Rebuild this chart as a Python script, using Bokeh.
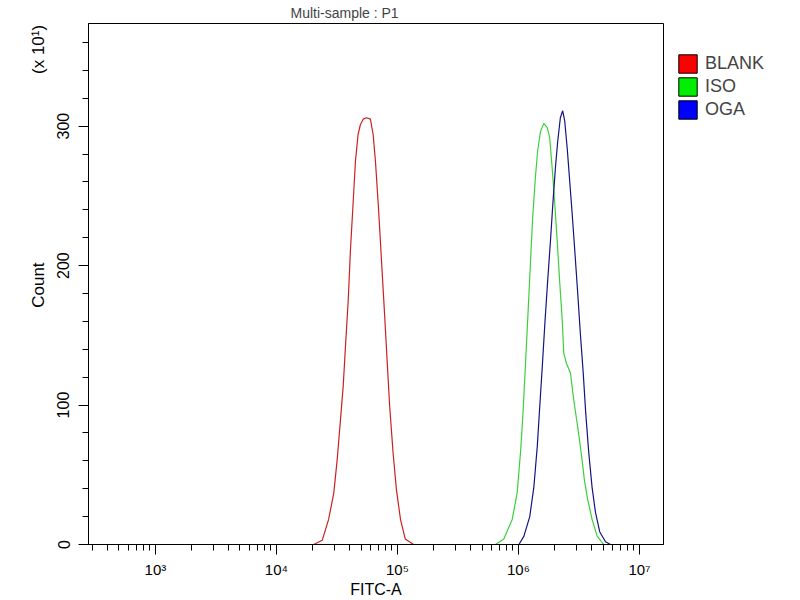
from bokeh.plotting import figure
from bokeh.layouts import row
from bokeh.models import (Range1d, FixedTicker, CustomJSTickFormatter, Legend,
                          LegendItem, LinearAxis)
from bokeh.embed import file_html
from bokeh.resources import INLINE

# FITC-A values and counts (x 10)
blank_fitc = [2.03e4, 2.39e4, 2.70e4, 2.98e4, 3.18e4, 3.38e4, 3.56e4, 3.72e4,
              3.92e4, 4.09e4, 4.31e4, 4.50e4, 4.73e4, 4.94e4, 5.21e4, 5.55e4,
              5.98e4, 6.30e4, 6.58e4, 7.00e4, 7.38e4, 7.82e4, 8.22e4, 8.63e4,
              9.20e4, 9.82e4, 1.06e5, 1.16e5, 1.36e5]
blank_count = [0, 3, 18, 37, 61, 89, 113, 142, 175, 211, 246, 275, 294, 301,
               305, 306, 305, 294, 275, 239, 204, 166, 132, 99, 66, 39, 18, 4, 0]

iso_fitc = [6.46e5, 7.57e5, 8.88e5, 9.76e5, 1.04e6, 1.09e6, 1.14e6, 1.20e6,
            1.26e6, 1.31e6, 1.38e6, 1.44e6, 1.52e6, 1.62e6, 1.73e6, 1.81e6,
            1.90e6, 1.99e6, 2.09e6, 2.19e6, 2.30e6, 2.37e6, 2.49e6, 2.69e6,
            2.86e6, 3.09e6, 3.30e6, 3.51e6, 3.74e6, 4.06e6, 4.47e6, 5.07e6]
iso_count = [0, 4, 18, 37, 66, 94, 127, 166, 204, 234, 263, 282, 296, 302,
             299, 292, 270, 246, 218, 189, 161, 137, 130, 123, 104, 84, 66, 46,
             32, 18, 6, 0]

oga_fitc = [1.01e6, 1.11e6, 1.24e6, 1.34e6, 1.43e6, 1.50e6, 1.58e6, 1.66e6,
            1.75e6, 1.84e6, 1.93e6, 2.02e6, 2.11e6, 2.22e6, 2.32e6, 2.41e6,
            2.53e6, 2.65e6, 2.78e6, 2.92e6, 3.09e6, 3.25e6, 3.43e6, 3.60e6,
            3.81e6, 4.06e6, 4.33e6, 4.70e6, 5.24e6, 5.76e6]
oga_count = [0, 6, 20, 41, 70, 99, 130, 161, 191, 218, 246, 270, 289, 306,
             311, 304, 284, 261, 237, 211, 180, 151, 123, 94, 66, 41, 23, 9, 2, 0]

sample_names = ["BLANK", "ISO", "OGA"]
line_colors = ["#cc2020", "#3ccf3c", "#14147e"]
swatch_colors = ["#ff0000", "#00ee00", "#0000ff"]

x_decades = [1e3, 1e4, 1e5, 1e6, 1e7]
y_major = [0, 100, 200, 300]

FONT = "Liberation Sans"

p = figure(width=675, height=600, x_axis_type="log",
           x_range=Range1d(280, 1.58e7), y_range=Range1d(0, 373.6),
           output_backend="svg", toolbar_location=None,
           min_border_left=88, min_border_right=12,
           min_border_top=22, min_border_bottom=55)

p.title.text = "Multi-sample : P1"
p.title.text_font = FONT
p.title.text_font_size = "14px"
p.title.text_font_style = "normal"
p.title.align = "left"
p.title.offset = 202
p.title.standoff = 5

p.grid.visible = False
p.outline_line_color = "black"
p.outline_line_alpha = 1

# x axis
minor_x = [m * d for d in [1e2, 1e3, 1e4, 1e5, 1e6, 1e7] for m in range(2, 10)]
p.xaxis.ticker = FixedTicker(ticks=x_decades, minor_ticks=minor_x)
p.xaxis.formatter = CustomJSTickFormatter(code="""
    const sup = {'0':'\u2070','1':'\u00b9','2':'\u00b2','3':'\u00b3','4':'\u2074',
                 '5':'\u2075','6':'\u2076','7':'\u2077','8':'\u2078','9':'\u2079'};
    const e = Math.round(Math.log10(tick));
    return '10' + String(e).split('').map(c => sup[c]).join('');
""")
p.xaxis.axis_label = "FITC-A"

# y axis
p.yaxis.ticker = FixedTicker(ticks=y_major, minor_ticks=list(range(0, 380, 20)))
p.yaxis.major_label_orientation = "vertical"

for ax in [p.xaxis, p.yaxis]:
    ax.axis_line_color = "black"
    ax.major_tick_line_color = "black"
    ax.minor_tick_line_color = "black"
    ax.major_tick_in = 0
    ax.minor_tick_in = 0
    ax.major_tick_out = 10
    ax.minor_tick_out = 6
    ax.major_label_text_font = FONT
    ax.major_label_text_font_size = "16px"
    ax.major_label_text_color = "black"
    ax.axis_label_text_font = FONT
    ax.axis_label_text_font_size = "17px"
    ax.axis_label_text_font_style = "normal"
    ax.axis_label_text_color = "black"

p.xaxis.major_label_text_font_size = "15px"
p.xaxis.axis_label_text_font_size = "16px"
p.xaxis.major_label_standoff = 6
p.xaxis.axis_label_standoff = 0
p.yaxis.major_label_standoff = 9

# outer left axis carrying the "Count" title and the scale note
y_titles = {186: "Count", 355: "(x 10\u00b9)"}
side = LinearAxis(ticker=FixedTicker(ticks=list(y_titles.keys())),
                  major_label_overrides=y_titles,
                  major_label_orientation="vertical",
                  axis_line_color=None, major_tick_line_color=None,
                  minor_tick_line_color=None, major_tick_out=0,
                  major_tick_in=0, minor_tick_out=0, minor_tick_in=0,
                  major_label_standoff=6, major_label_text_font=FONT,
                  major_label_text_font_size="17px",
                  major_label_text_color="black")
p.add_layout(side, "left")

# histogram outlines
series = [(blank_fitc, blank_count), (iso_fitc, iso_count), (oga_fitc, oga_count)]
for (xs, ys), lc in zip(series, line_colors):
    p.line(xs, ys, line_color=lc, line_width=1.2)

# legend panel to the right of the plot frame
lf = figure(width=125, height=600, x_range=Range1d(0, 1), y_range=Range1d(0, 1),
            output_backend="svg", toolbar_location=None, min_border=0)
lf.axis.visible = False
lf.grid.visible = False
lf.outline_line_color = None

items = []
for name, sc in zip(sample_names, swatch_colors):
    # swatch proxy, kept outside the legend panel's range
    sw = lf.quad(left=[-2], right=[-1], top=[-1], bottom=[-2],
                 fill_color=sc, line_color="black", line_width=1)
    items.append(LegendItem(label=name, renderers=[sw]))

legend = Legend(items=items, location=(1, 423), glyph_width=23,
                glyph_height=23, label_height=23, spacing=0, padding=0,
                margin=0, label_standoff=6, label_text_font=FONT,
                label_text_font_size="18px", border_line_color=None,
                background_fill_alpha=0)
lf.add_layout(legend)

layout = row(p, lf)
open("out.html", "w").write(file_html(layout, INLINE))
